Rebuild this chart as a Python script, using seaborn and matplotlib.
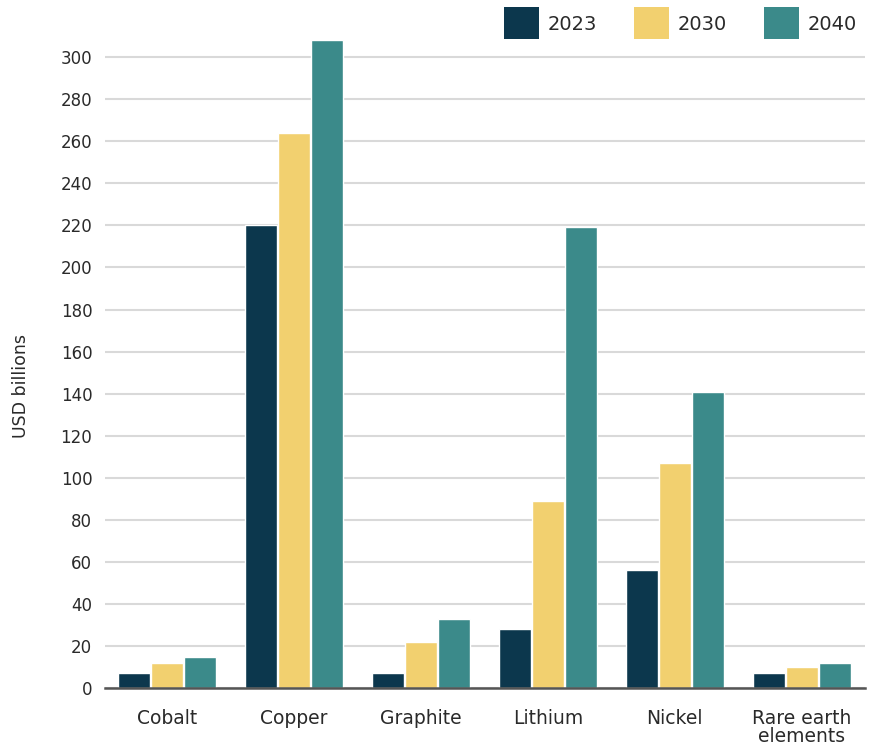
import matplotlib
matplotlib.use("Agg")
import matplotlib.pyplot as plt
import seaborn as sns
import pandas as pd
from matplotlib.patches import Patch

categories = ["Cobalt", "Copper", "Graphite", "Lithium", "Nickel", "Rare earth\nelements"]
years = ["2023", "2030", "2040"]
values_2023 = [7, 220, 7, 28, 56, 7]
values_2030 = [12, 264, 22, 89, 107, 10]
values_2040 = [15, 308, 33, 219, 141, 12]
yticks = list(range(0, 301, 20))
colors = ["#0c374d", "#f2d06f", "#3b8a8a"]

rows = []
for yr, vals in zip(years, [values_2023, values_2030, values_2040]):
    for c, v in zip(categories, vals):
        rows.append({"Mineral": c, "Year": yr, "Value": v})
df = pd.DataFrame(rows)

sns.set_theme(style="white")
plt.rcParams["font.family"] = ["DejaVu Sans"]

fig = plt.figure(figsize=(8.73, 7.52), dpi=100)
ax = fig.add_axes([0.120, 0.085, 0.871, 0.867])

sns.barplot(data=df, x="Mineral", y="Value", hue="Year", palette=colors,
            order=categories, hue_order=years, width=0.78, gap=0.03,
            saturation=1, ax=ax, legend=False, zorder=3)

ax.set_ylim(0, 310)
ax.set_xlim(-0.49, 5.5)
ax.set_yticks(yticks)
ax.set_yticklabels([str(t) for t in yticks], fontsize=12, color="#2a2a2a")
ax.tick_params(axis="y", length=0, pad=9)
ax.tick_params(axis="x", length=0, pad=15, labelsize=13.5, labelcolor="#2a2a2a")
for lab in ax.get_xticklabels():
    lab.set_linespacing(0.95)
ax.yaxis.grid(True, color="#d9d9d9", linewidth=1.5, zorder=0)
ax.set_axisbelow(True)
for s in ["top", "right", "left"]:
    ax.spines[s].set_visible(False)
ax.spines["bottom"].set_color("#555555")
ax.spines["bottom"].set_linewidth(1.8)
ax.spines["bottom"].set_zorder(5)
ax.set_xlabel("")
ax.set_ylabel("USD billions", fontsize=12.5, color="#2a2a2a")
ax.yaxis.set_label_coords(-0.098, 0.463)

handles = [Patch(facecolor=c, edgecolor="none") for c in colors]
fig.legend(handles, years, loc="upper right", bbox_to_anchor=(0.993, 1.003),
           ncol=3, frameon=False, fontsize=14, handlelength=1.8, handleheight=2.15,
           handletextpad=0.45, columnspacing=1.9, borderpad=0, labelcolor="#2a2a2a")

fig.savefig("out.png", dpi=100)
